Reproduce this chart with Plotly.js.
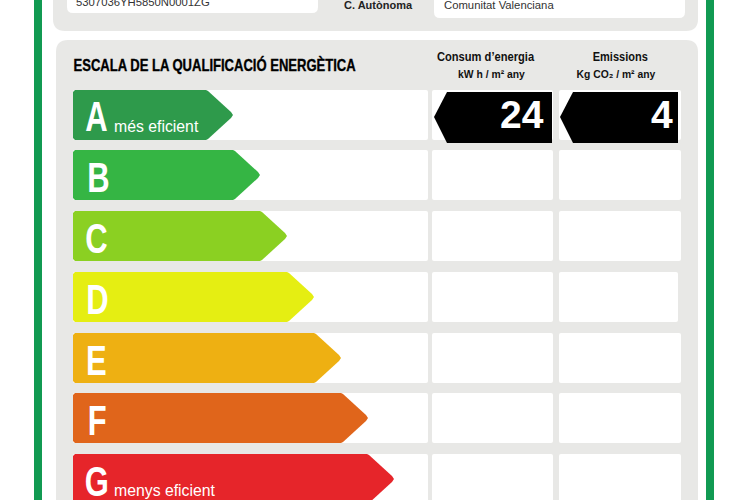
<!DOCTYPE html>
<html><head><meta charset="utf-8">
<script src="https://cdn.plot.ly/plotly-3.0.1.min.js"></script>
<style>html,body{margin:0;padding:0;background:#fff}</style></head>
<body><div id="chart" style="width:750px;height:500px"></div>
<script>
// Data
var grades = ["A","B","C","D","E","F","G"];
var gradeNotes = ["més eficient","","","","","","menys eficient"];
var gradeColors = ["#2e9a4b","#35b544","#8bd022","#e5ee12","#eeb012","#e0651b","#e6252a"];
var arrowEnds = [233,260,287,314,341,368,394];
var rowTops = [90,150,211,272,333,393,454];
var columnHeads = ["Consum d’energia","Emissions"];
var columnUnits = ["kW h / m² any","Kg CO₂ / m² any"];
var columnValues = ["24","4"];
var infoTexts = ["5307036YH5850N0001ZG","C. Autònoma","Comunitat Valenciana"];
var title = "ESCALA DE LA QUALIFICACIÓ ENERGÈTICA";

var sans = '"Liberation Sans", Arial, sans-serif';
var panel = "#e8e8e6";

function rrect(x0,y0,x1,y1,r,fill){
  return {type:"path",xref:"x",yref:"y",layer:"below",fillcolor:fill,line:{width:0},
    path:"M"+(x0+r)+","+y0+" L"+(x1-r)+","+y0+" Q"+x1+","+y0+" "+x1+","+(y0+r)+
      " L"+x1+","+(y1-r)+" Q"+x1+","+y1+" "+(x1-r)+","+y1+" L"+(x0+r)+","+y1+
      " Q"+x0+","+y1+" "+x0+","+(y1-r)+" L"+x0+","+(y0+r)+" Q"+x0+","+y0+" "+(x0+r)+","+y0+" Z"};
}
var shapes = [
  {type:"rect",xref:"x",yref:"y",layer:"below",x0:34,x1:42,y0:-5,y1:505,fillcolor:"#119a52",line:{width:0}},
  {type:"rect",xref:"x",yref:"y",layer:"below",x0:706,x1:714,y0:-5,y1:505,fillcolor:"#119a52",line:{width:0}},
  rrect(53,-30,698,31,12,panel),
  rrect(67,-20,318,13,6,"#ffffff"),
  rrect(434,-20,685,18,6,"#ffffff"),
  rrect(56,40,698,530,12,panel)
];
rowTops.forEach(function(t,i){
  shapes.push(rrect(73,t,428,t+50,2,"#ffffff"));
  shapes.push(rrect(432,t,553,t+50,2,"#ffffff"));
  shapes.push(rrect(559,t,i===3?678:681,t+50,2,"#ffffff"));
});

var traces = [];
grades.forEach(function(g,i){
  var t = rowTops[i], e = arrowEnds[i], c = gradeColors[i];
  traces.push({type:"scatter",mode:"lines",fill:"toself",fillcolor:c,
    line:{color:c,width:0},hoverinfo:"skip",showlegend:false,
    x:[75,e-27,e-25,e-2,e,e-2,e-25,e-27,75,73,73,75],
    y:[t,t,t+1,t+22,t+25,t+28,t+49,t+50,t+50,t+48,t+2,t]});
});
[[434,552],[560,678]].forEach(function(c){
  var t = 92;
  traces.push({type:"scatter",mode:"lines",fill:"toself",fillcolor:"#000000",
    line:{color:"#000000",width:0},hoverinfo:"skip",showlegend:false,
    x:[c[1],c[0]+13,c[0],c[0]+13,c[1],c[1]],y:[t,t,t+25,t+51,t+51,t]});
});

var ann = [], squeeze = [];
function txt(x,y,s,size,color,anchor,bold,sq){
  ann.push({xref:"x",yref:"y",x:x,y:y,text:bold?"<b>"+s+"</b>":s,showarrow:false,xanchor:anchor||"left",yanchor:"middle",
    font:{family:sans,size:size,color:color},borderpad:0,borderwidth:0});
  squeeze.push(sq||1);
}
txt(76,2,infoTexts[0],11.3,"#333","left");
txt(344,5,infoTexts[1],11,"#222","left",true);
txt(444,5,infoTexts[2],11.3,"#333","left");
txt(214.5,65,title,16.5,"#000","center",true,0.79);
txt(485.5,57,columnHeads[0],12.5,"#111","center",true,0.89);
txt(620.5,57,columnHeads[1],12.5,"#111","center",true,0.88);
txt(492,74,columnUnits[0],11,"#111","center",true,0.94);
txt(616.7,74,columnUnits[1],11,"#111","center",true,0.94);
txt(544,114,columnValues[0],39,"#fff","right",true);
txt(673,114,columnValues[1],39,"#fff","right",true);
var letterCenters = [96.5,98,96.5,97.5,96.5,96.5,96];
grades.forEach(function(g,i){
  txt(letterCenters[i],rowTops[i]+(i===0?26:27),g,43,"#fff","center",true,0.72);
  if(gradeNotes[i]) txt(114,rowTops[i]+36,gradeNotes[i],15.8,"#fff","left");
});

Plotly.newPlot("chart",traces,{
  width:750,height:500,margin:{l:0,r:0,t:0,b:0},
  paper_bgcolor:"#fff",plot_bgcolor:"#fff",showlegend:false,
  xaxis:{range:[0,750],visible:false,fixedrange:true},
  yaxis:{range:[500,0],visible:false,fixedrange:true},
  shapes:shapes,annotations:ann
},{displayModeBar:false,staticPlot:true}).then(function(gd){
  // the reference lettering is condensed: narrow the real text in place
  var nodes = gd.querySelectorAll(".annotation-text");
  nodes.forEach(function(n,i){
    if(squeeze[i]!==1){
      n.setAttribute("textLength",(n.getComputedTextLength()*squeeze[i]).toFixed(1));
      n.setAttribute("lengthAdjust","spacingAndGlyphs");
      if(i===3){ n.style.stroke="#000"; n.style.strokeWidth="0.35px"; }
    }
  });
});
</script></body></html>
